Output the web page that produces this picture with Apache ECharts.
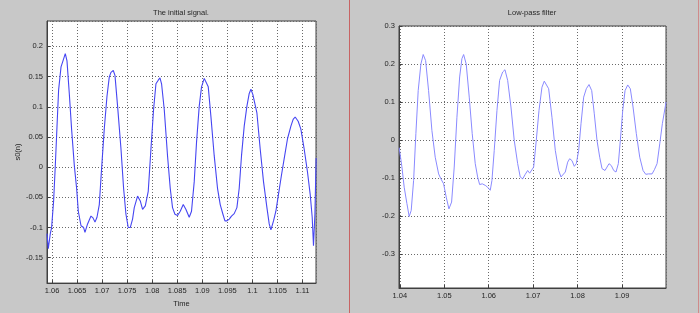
<!DOCTYPE html>
<html>
<head>
<meta charset="utf-8">
<script src="https://cdn.jsdelivr.net/npm/echarts@6/dist/echarts.min.js"></script>
<style>
html,body{margin:0;padding:0;background:#c8c8c8;}
#chart{width:700px;height:313px;}
</style>
</head>
<body>
<div id="chart"></div>
<script>
// Left panel: the initial signal
var leftTitle = "The initial signal.";
var leftYName = "s0(n)";
var leftXName = "Time";
var leftTime = [1.0590,1.05926,1.05966,1.05992,1.06032,1.06066,1.06100,1.06132,1.06180,1.06219,1.06265,1.06299,1.06345,1.06391,1.06445,1.06491,1.06525,1.06579,1.06631,1.06658,1.06710,1.06778,1.06818,1.06858,1.06898,1.06944,1.06990,1.07043,1.07097,1.07143,1.07177,1.07223,1.07257,1.07309,1.07377,1.07429,1.07476,1.07522,1.07562,1.07608,1.07642,1.07708,1.07762,1.07808,1.07862,1.07921,1.07975,1.08027,1.08075,1.08121,1.08155,1.08187,1.08241,1.08306,1.08360,1.08406,1.08454,1.08506,1.08560,1.08620,1.08674,1.08739,1.08785,1.08839,1.08885,1.08939,1.08985,1.09039,1.09073,1.09119,1.09172,1.09238,1.09304,1.09358,1.09412,1.09452,1.09492,1.09538,1.09583,1.09637,1.09691,1.09737,1.09783,1.09837,1.09891,1.09937,1.09971,1.10010,1.10036,1.10090,1.10156,1.10222,1.10290,1.10336,1.10370,1.10422,1.10469,1.10521,1.10581,1.10635,1.10701,1.10769,1.10814,1.10854,1.10914,1.10968,1.11034,1.11100,1.11154,1.11194,1.11220,1.11248,1.11273];
var leftSignal = [-0.110,-0.135,-0.110,-0.100,-0.056,0.003,0.068,0.128,0.166,0.176,0.188,0.176,0.122,0.063,0.003,-0.035,-0.073,-0.097,-0.100,-0.108,-0.094,-0.081,-0.084,-0.091,-0.083,-0.062,-0.002,0.063,0.117,0.149,0.157,0.160,0.152,0.101,0.030,-0.035,-0.078,-0.100,-0.100,-0.086,-0.067,-0.048,-0.056,-0.070,-0.064,-0.040,0.030,0.095,0.138,0.144,0.148,0.138,0.095,0.019,-0.035,-0.067,-0.078,-0.080,-0.073,-0.062,-0.070,-0.083,-0.073,-0.024,0.041,0.101,0.133,0.147,0.148,0.133,0.084,0.019,-0.035,-0.062,-0.078,-0.089,-0.089,-0.086,-0.081,-0.077,-0.067,-0.035,0.019,0.068,0.101,0.122,0.129,0.120,0.121,0.090,0.030,-0.024,-0.067,-0.094,-0.104,-0.089,-0.073,-0.045,-0.013,0.014,0.047,0.068,0.079,0.083,0.076,0.063,0.030,-0.008,-0.045,-0.083,-0.130,-0.078,0.015];

// Right panel: low-pass filter
var rightTitle = "Low-pass filter";
var rightTime = [1.03984,1.04045,1.04097,1.04158,1.04209,1.04255,1.04309,1.04360,1.04412,1.04473,1.04525,1.04579,1.04646,1.04721,1.04795,1.04872,1.04923,1.04984,1.05043,1.05104,1.05164,1.05223,1.05284,1.05345,1.05396,1.05435,1.05493,1.05561,1.05628,1.05696,1.05750,1.05795,1.05854,1.05921,1.05975,1.06034,1.06072,1.06124,1.06185,1.06245,1.06313,1.06365,1.06426,1.06500,1.06574,1.06651,1.06709,1.06764,1.06822,1.06876,1.06921,1.06966,1.07011,1.07070,1.07131,1.07198,1.07250,1.07295,1.07349,1.07423,1.07498,1.07574,1.07626,1.07671,1.07723,1.07777,1.07822,1.07874,1.07926,1.07971,1.08025,1.08077,1.08137,1.08196,1.08257,1.08318,1.08376,1.08437,1.08498,1.08550,1.08617,1.08662,1.08707,1.08759,1.08813,1.08865,1.08917,1.08962,1.09016,1.09068,1.09128,1.09187,1.09248,1.09322,1.09399,1.09473,1.09534,1.09593,1.09638,1.09676,1.09728,1.09789,1.09849,1.09908,1.09984,1.09991];
var rightFiltered = [-0.020,-0.070,-0.124,-0.167,-0.201,-0.185,-0.106,0.017,0.130,0.200,0.225,0.209,0.130,0.025,-0.045,-0.089,-0.102,-0.115,-0.150,-0.181,-0.163,-0.071,0.060,0.166,0.214,0.225,0.200,0.113,0.017,-0.062,-0.097,-0.117,-0.115,-0.119,-0.124,-0.132,-0.106,-0.027,0.078,0.157,0.179,0.185,0.157,0.087,-0.001,-0.062,-0.097,-0.102,-0.090,-0.080,-0.087,-0.084,-0.071,-0.001,0.078,0.139,0.155,0.155,0.135,0.060,-0.027,-0.080,-0.097,-0.102,-0.084,-0.058,-0.049,-0.054,-0.069,-0.062,-0.027,0.043,0.113,0.135,0.146,0.130,0.069,-0.001,-0.045,-0.075,-0.080,-0.071,-0.062,-0.067,-0.080,-0.084,-0.062,-0.001,0.078,0.130,0.145,0.135,0.087,0.017,-0.045,-0.080,-0.090,-0.089,-0.084,-0.089,-0.078,-0.062,-0.010,0.043,0.095,0.100];

function pairs(xs, ys){ return xs.map(function(x,i){ return [x, ys[i]]; }); }

var FONT = '"Liberation Sans", Arial, sans-serif';
var gridLine = {show:true, lineStyle:{color:'#6a6a6a', type:[1,2], width:1}};
var labelStyle = {color:'#262626', fontSize:7.5, fontFamily:FONT, showMinLabel:false, showMaxLabel:false};
function axisBase(extra){
  var o = {
    type:'value', scale:true,
    axisLine:{show:true, onZero:false, lineStyle:{color:'#404040'}},
    axisTick:{show:true, inside:true, length:3, lineStyle:{color:'#404040'}},
    splitLine:gridLine
  };
  for (var k in extra) o[k]=extra[k];
  return o;
}

var chart = echarts.init(document.getElementById('chart'), null, {renderer:'canvas'});
chart.setOption({
  animation:false,
  backgroundColor:'#c8c8c8',
  grid:[
    {left:47, top:21, width:269, height:267, show:true, backgroundColor:'#ffffff', borderColor:'#404040', borderWidth:1},
    {left:399, top:26, width:267, height:262, show:true, backgroundColor:'#ffffff', borderColor:'#404040', borderWidth:1}
  ],
  xAxis:[
    axisBase({gridIndex:0, min:1.059, max:1.1127, splitNumber:11,
      axisLabel:Object.assign({margin:4}, labelStyle),
      name:leftXName, nameLocation:'middle', nameGap:10,
      nameTextStyle:{color:'#262626', fontSize:7.5, fontFamily:FONT}}),
    axisBase({gridIndex:1, min:1.0398, max:1.0999, splitNumber:6,
      axisLabel:Object.assign({margin:4}, labelStyle)})
  ],
  yAxis:[
    axisBase({gridIndex:0, min:-0.192, max:0.242, splitNumber:9,
      axisLabel:Object.assign({margin:4}, labelStyle),
      name:leftYName, nameLocation:'middle', nameGap:21,
      nameTextStyle:{color:'#262626', fontSize:7.5, fontFamily:FONT}}),
    axisBase({gridIndex:1, min:-0.389, max:0.3, splitNumber:7,
      axisLabel:Object.assign({}, labelStyle, {margin:4, showMaxLabel:true})})
  ],
  series:[
    {type:'line', xAxisIndex:0, yAxisIndex:0, data:pairs(leftTime, leftSignal),
     showSymbol:false, lineStyle:{color:'#4646f2', width:1.1}, itemStyle:{color:'#4646f2'}, clip:true},
    {type:'line', xAxisIndex:1, yAxisIndex:1, data:pairs(rightTime, rightFiltered),
     showSymbol:false, lineStyle:{color:'#8a8aff', width:1}, itemStyle:{color:'#8a8aff'}, clip:true}
  ],
  graphic:[
    {type:'text', x:181, y:12.5, style:{text:leftTitle, fill:'#262626', font:'7.5px '+FONT, textAlign:'center', textVerticalAlign:'middle'}},
    {type:'text', x:532, y:12.5, style:{text:rightTitle, fill:'#262626', font:'7.5px '+FONT, textAlign:'center', textVerticalAlign:'middle'}},
    {type:'line', shape:{x1:349.5, y1:0, x2:349.5, y2:313}, style:{stroke:'#c86464', lineWidth:1}},
    {type:'line', shape:{x1:698.5, y1:0, x2:698.5, y2:313}, style:{stroke:'#d08a8a', lineWidth:1}}
  ]
});
</script>
</body>
</html>
